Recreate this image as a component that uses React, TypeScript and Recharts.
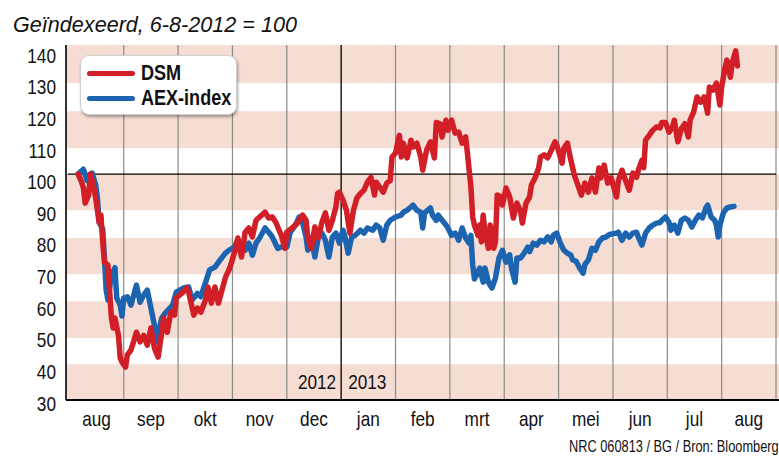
import React from "react";
import { LineChart, Line, XAxis, YAxis, ReferenceArea, ReferenceLine } from "recharts";

// maanden, aug 2012 t/m aug 2013 (x = maandnummer vanaf 1 aug 2012)
const monthLabels = ["aug", "sep", "okt", "nov", "dec", "jan", "feb", "mrt", "apr", "mei", "jun", "jul", "aug"];
const monthStarts = [1, 2, 3, 4, 5, 6, 7, 8, 9, 10, 11, 12, 13];
const yearStart = 5;
const yTicks = [30, 40, 50, 60, 70, 80, 90, 100, 110, 120, 130, 140];
const pinkBands: [number, number][] = [
  [128.2, 140],
  [108, 119.5],
  [88.8, 100],
  [69, 80.2],
  [49.2, 60.6],
  [30, 41.1],
];

const dsmDates = [
  "2012-08-06", "2012-08-08", "2012-08-09", "2012-08-10", "2012-08-12", "2012-08-13", "2012-08-15", "2012-08-16",
  "2012-08-18", "2012-08-19", "2012-08-20", "2012-08-21", "2012-08-23", "2012-08-24", "2012-08-25", "2012-08-26",
  "2012-08-27", "2012-08-29", "2012-08-30", "2012-08-31", "2012-09-02", "2012-09-03", "2012-09-05", "2012-09-08",
  "2012-09-10", "2012-09-12", "2012-09-14", "2012-09-16", "2012-09-18", "2012-09-20", "2012-09-22", "2012-09-23",
  "2012-09-25", "2012-09-27", "2012-09-29", "2012-09-30", "2012-10-03", "2012-10-06", "2012-10-07", "2012-10-10",
  "2012-10-12", "2012-10-14", "2012-10-17", "2012-10-18", "2012-10-20", "2012-10-22", "2012-10-24", "2012-10-26",
  "2012-10-28", "2012-10-30", "2012-10-31", "2012-11-03", "2012-11-04", "2012-11-06", "2012-11-08", "2012-11-10",
  "2012-11-12", "2012-11-14", "2012-11-16", "2012-11-19", "2012-11-21", "2012-11-23", "2012-11-25", "2012-11-26",
  "2012-11-28", "2012-11-30", "2012-12-01", "2012-12-04", "2012-12-07", "2012-12-10", "2012-12-12", "2012-12-13",
  "2012-12-15", "2012-12-17", "2012-12-19", "2012-12-21", "2012-12-23", "2012-12-25", "2012-12-27", "2012-12-29",
  "2012-12-30", "2012-12-31", "2013-01-02", "2013-01-04", "2013-01-06", "2013-01-08", "2013-01-10", "2013-01-12",
  "2013-01-14", "2013-01-16", "2013-01-18", "2013-01-20", "2013-01-21", "2013-01-23", "2013-01-25", "2013-01-27",
  "2013-01-29", "2013-01-30", "2013-02-01", "2013-02-03", "2013-02-04", "2013-02-05", "2013-02-07", "2013-02-09",
  "2013-02-10", "2013-02-12", "2013-02-14", "2013-02-15", "2013-02-17", "2013-02-19", "2013-02-21", "2013-02-22",
  "2013-02-24", "2013-02-25", "2013-02-27", "2013-02-28", "2013-03-02", "2013-03-04", "2013-03-06", "2013-03-08",
  "2013-03-10", "2013-03-11", "2013-03-13", "2013-03-14", "2013-03-15", "2013-03-17", "2013-03-18", "2013-03-19",
  "2013-03-20", "2013-03-21", "2013-03-23", "2013-03-24", "2013-03-26", "2013-03-27", "2013-03-28", "2013-03-30",
  "2013-03-31", "2013-04-02", "2013-04-04", "2013-04-06", "2013-04-08", "2013-04-10", "2013-04-11", "2013-04-13",
  "2013-04-15", "2013-04-16", "2013-04-18", "2013-04-20", "2013-04-21", "2013-04-23", "2013-04-25", "2013-04-27",
  "2013-04-29", "2013-04-30", "2013-05-03", "2013-05-04", "2013-05-06", "2013-05-08", "2013-05-10", "2013-05-12",
  "2013-05-14", "2013-05-16", "2013-05-18", "2013-05-20", "2013-05-22", "2013-05-24", "2013-05-25", "2013-05-27",
  "2013-05-29", "2013-05-31", "2013-06-03", "2013-06-04", "2013-06-06", "2013-06-08", "2013-06-10", "2013-06-12",
  "2013-06-14", "2013-06-15", "2013-06-17", "2013-06-18", "2013-06-19", "2013-06-21", "2013-06-23", "2013-06-25",
  "2013-06-27", "2013-06-28", "2013-06-30", "2013-07-02", "2013-07-04", "2013-07-05", "2013-07-07", "2013-07-09",
  "2013-07-11", "2013-07-13", "2013-07-14", "2013-07-16", "2013-07-18", "2013-07-20", "2013-07-22", "2013-07-24",
  "2013-07-25", "2013-07-27", "2013-07-29", "2013-07-31", "2013-08-01", "2013-08-03", "2013-08-04", "2013-08-06",
  "2013-08-07", "2013-08-09", "2013-08-10",
];
const dsmValues = [
  100, 97.5, 95.7, 91, 93.5, 100, 95.7, 92.6,
  85, 87.3, 79, 72.7, 71.8, 63.4, 55.4, 52.3,
  55.4, 50, 43, 41.7, 40.2, 44, 45.5, 51,
  48, 50, 47, 52.3, 46, 43.3, 51, 55.4,
  51, 57.2, 56.3, 61.6, 63, 64.7, 63.4, 56.3,
  58.5, 57.2, 61.6, 65, 60, 65, 60, 64,
  68, 70.3, 71.8, 77.4, 80.2, 74.3, 82, 83.3,
  80.5, 85.7, 86.7, 88.2, 86.4, 86.7, 85, 83.6,
  81, 77, 82, 83.3, 84.8, 87.3, 85.7, 80.2,
  77, 83.6, 80.2, 85, 88, 82.6, 85.7, 89.8,
  94, 94.4, 92, 88.8, 81.7, 88.8, 92.6, 94,
  95, 97.5, 99, 93.5, 97.5, 96, 94.4, 97.2,
  98, 105.3, 106.5, 112, 105.3, 109.6, 105, 110.5,
  108.4, 109.6, 105.3, 101.2, 107.4, 110, 105, 116,
  115.6, 111.5, 116.7, 113.6, 116.7, 112.7, 113, 109.6,
  111.5, 106.5, 96, 86.7, 84.2, 81, 84.2, 79,
  87.3, 82, 77, 84.2, 77, 79, 93.5, 93,
  90.4, 95.7, 93, 86.4, 91, 88.5, 84.8, 91,
  92.9, 96.6, 98.8, 101.9, 105.3, 106, 105, 107.4,
  110, 109, 103.4, 108, 109.6, 104.3, 99.7, 96.6,
  93.5, 97.2, 94.4, 98.8, 94.4, 101.9, 98.8, 102.8,
  97.2, 98.8, 92.9, 98, 101.2, 98, 95, 100.3,
  99, 101.2, 104.3, 102, 110.5, 112, 113.6, 114.6,
  114.3, 116, 116, 113, 114.6, 116.7, 110, 114,
  115.6, 111.5, 116.7, 119.2, 123.9, 122.3, 123.9, 118.9,
  127, 126, 128.2, 121.4, 127, 133.2, 135.3, 130,
  134.4, 138.2, 133.5,
];

const aexDates = [
  "2012-08-06", "2012-08-09", "2012-08-11", "2012-08-12", "2012-08-14", "2012-08-16", "2012-08-17", "2012-08-18",
  "2012-08-20", "2012-08-21", "2012-08-22", "2012-08-23", "2012-08-25", "2012-08-27", "2012-08-28", "2012-08-30",
  "2012-08-31", "2012-09-01", "2012-09-03", "2012-09-05", "2012-09-08", "2012-09-10", "2012-09-12", "2012-09-14",
  "2012-09-16", "2012-09-18", "2012-09-19", "2012-09-22", "2012-09-24", "2012-09-28", "2012-09-30", "2012-10-04",
  "2012-10-07", "2012-10-09", "2012-10-12", "2012-10-14", "2012-10-17", "2012-10-19", "2012-10-22", "2012-10-25",
  "2012-10-28", "2012-10-30", "2012-11-02", "2012-11-04", "2012-11-06", "2012-11-08", "2012-11-10", "2012-11-12",
  "2012-11-14", "2012-11-16", "2012-11-19", "2012-11-21", "2012-11-23", "2012-11-26", "2012-11-28", "2012-12-01",
  "2012-12-03", "2012-12-06", "2012-12-08", "2012-12-10", "2012-12-12", "2012-12-13", "2012-12-15", "2012-12-17",
  "2012-12-19", "2012-12-21", "2012-12-23", "2012-12-25", "2012-12-27", "2012-12-29", "2012-12-31", "2013-01-02",
  "2013-01-03", "2013-01-05", "2013-01-07", "2013-01-09", "2013-01-12", "2013-01-14", "2013-01-16", "2013-01-19",
  "2013-01-21", "2013-01-23", "2013-01-25", "2013-01-27", "2013-01-29", "2013-02-01", "2013-02-04", "2013-02-05",
  "2013-02-07", "2013-02-09", "2013-02-10", "2013-02-12", "2013-02-14", "2013-02-15", "2013-02-16", "2013-02-19",
  "2013-02-20", "2013-02-22", "2013-02-23", "2013-02-25", "2013-02-27", "2013-02-28", "2013-03-02", "2013-03-04",
  "2013-03-06", "2013-03-08", "2013-03-10", "2013-03-12", "2013-03-13", "2013-03-14", "2013-03-15", "2013-03-18",
  "2013-03-20", "2013-03-21", "2013-03-23", "2013-03-25", "2013-03-27", "2013-03-29", "2013-03-31", "2013-04-02",
  "2013-04-04", "2013-04-05", "2013-04-07", "2013-04-08", "2013-04-10", "2013-04-12", "2013-04-14", "2013-04-15",
  "2013-04-17", "2013-04-19", "2013-04-21", "2013-04-23", "2013-04-25", "2013-04-27", "2013-04-28", "2013-04-30",
  "2013-05-02", "2013-05-04", "2013-05-06", "2013-05-08", "2013-05-09", "2013-05-11", "2013-05-13", "2013-05-15",
  "2013-05-16", "2013-05-18", "2013-05-20", "2013-05-22", "2013-05-24", "2013-05-26", "2013-05-28", "2013-05-30",
  "2013-06-03", "2013-06-04", "2013-06-06", "2013-06-08", "2013-06-10", "2013-06-12", "2013-06-14", "2013-06-15",
  "2013-06-17", "2013-06-19", "2013-06-21", "2013-06-23", "2013-06-25", "2013-06-27", "2013-06-28", "2013-06-30",
  "2013-07-02", "2013-07-03", "2013-07-05", "2013-07-07", "2013-07-09", "2013-07-11", "2013-07-13", "2013-07-15",
  "2013-07-17", "2013-07-19", "2013-07-21", "2013-07-23", "2013-07-24", "2013-07-26", "2013-07-28", "2013-07-29",
  "2013-07-30", "2013-07-31", "2013-08-02", "2013-08-04", "2013-08-06", "2013-08-08",
];
const aexValues = [
  100, 101.5, 98, 99.7, 100.3, 96.6, 92.6, 85,
  83, 74, 64, 61, 68.7, 71, 61.6, 59.4,
  56, 61.6, 62, 59.4, 65.6, 60.3, 62.5, 64,
  58.5, 53, 48, 55.4, 57, 59.4, 63.4, 64.7,
  65, 61, 63, 62, 67, 70.3, 71.2, 73.4,
  75.5, 76.4, 77.4, 79.5, 76.4, 76.4, 78.6, 74.9,
  78.6, 80.2, 83.3, 82, 80.5, 77, 77.4, 77.4,
  82, 84.2, 86.7, 85, 80.5, 76.4, 80.2, 74.3,
  80.5, 81.7, 79.5, 74.3, 80.5, 81.7, 78.6, 82.6,
  81, 75.5, 80.5, 81, 82.6, 81.7, 83.3, 82.6,
  84.2, 83.3, 79.5, 84.2, 85.7, 86.7, 87.3, 88.2,
  88.8, 89.8, 90.4, 88.8, 88.2, 83.3, 88, 89.5,
  87.3, 85.7, 87.3, 85.7, 84.2, 83.3, 81, 81.7,
  79.5, 83.3, 80.2, 78.6, 81, 72, 67.5, 70.9,
  66.5, 70.9, 66.5, 64.7, 67.8, 74, 76.4, 72.7,
  75, 70.9, 66.5, 74, 74, 75.5, 77.4, 76,
  78.6, 78, 79.5, 79, 80.5, 79, 81, 81.7,
  78.6, 76.4, 75.5, 74.9, 73.4, 73, 70.9, 69.3,
  72, 73.4, 77, 76.4, 79, 80.2, 80.5, 81.3,
  81.7, 82, 79.5, 81.7, 80.5, 81.7, 82, 80.5,
  78, 81.7, 83.3, 84.2, 84.8, 85, 85.7, 86.7,
  85, 82.6, 84.2, 81.7, 85.7, 86.4, 85.7, 83.6,
  85.7, 87.3, 86.4, 89.5, 90.4, 86.7, 85.7, 84.2,
  80.5, 84.2, 88, 89.5, 89.8, 90,
];

// smalle letter: Liberation Sans horizontaal ingedrukt
const sans = "'Liberation Sans', Arial, sans-serif";
const squeeze = 0.82;

// datum -> positie in maanden (alle maanden even breed, zoals in de grafiek)
function monthPos(date: string) {
  const [y, m, d] = date.split("-").map(Number);
  const index = (y - 2012) * 12 + (m - 8);
  const days = new Date(y, m, 0).getDate();
  return index + (d - 1) / days;
}

const toRows = (dates: string[], values: number[]) =>
  dates.map((date, i) => ({ t: monthPos(date), v: values[i] }));

const series = [
  { name: "AEX-index", color: "#1c64b0", rows: toRows(aexDates, aexValues) },
  { name: "DSM", color: "#d21e26", rows: toRows(dsmDates, dsmValues) },
];

const NarrowText = ({ x, y, anchor, size = 21, weight = "normal", children }: any) => (
  <text
    transform={`translate(${x},${y}) scale(${squeeze},1)`}
    dy="0.36em"
    textAnchor={anchor}
    fontFamily={sans}
    fontSize={size}
    fontWeight={weight}
    fill="#111"
  >
    {children}
  </text>
);

const YTick = ({ x, y, payload }: any) => (
  <NarrowText x={x} y={y + 3 + (payload.value - 30) * 0.064} anchor="end">
    {payload.value}
  </NarrowText>
);

const XTick = ({ x, y, payload }: any) => (
  <NarrowText x={x} y={y} anchor="middle">
    {monthLabels[Math.floor(payload.value)]}
  </NarrowText>
);

const YearLabel = ({ viewBox }: any) => {
  const x = viewBox.x;
  const y = viewBox.y + viewBox.height - 19;
  return (
    <g>
      <NarrowText x={x - 5} y={y} anchor="end">2012</NarrowText>
      <NarrowText x={x + 7} y={y} anchor="start">2013</NarrowText>
    </g>
  );
};

const narrowHtml = {
  display: "inline-block",
  fontFamily: sans,
  transform: `scaleX(${squeeze})`,
  transformOrigin: "left center",
  whiteSpace: "nowrap" as const,
};

export default function App() {
  return (
    <div style={{ position: "relative", width: 779, height: 457, overflow: "hidden", background: "#fff" }}>
      <style>{"body{margin:0}"}</style>
      <div
        style={{
          position: "absolute",
          left: 13,
          top: 13,
          fontFamily: sans,
          fontStyle: "italic",
          fontSize: 21.6,
          lineHeight: "24px",
          color: "#111",
          whiteSpace: "nowrap",
        }}
      >
        Geïndexeerd, 6-8-2012 = 100
      </div>

      <LineChart width={779} height={457} margin={{ top: 45, right: 0, bottom: 0, left: 0 }}>
        {pinkBands.map(([lo, hi]) => (
          <ReferenceArea
            key={lo}
            y1={lo}
            y2={hi}
            fill="#f6ddd4"
            fillOpacity={1}
            stroke="none"
            ifOverflow="hidden"
          />
        ))}
        {monthStarts.map((m) => (
          <ReferenceLine
            key={m}
            x={m}
            stroke={m === yearStart ? "#000" : "#8a8a8a"}
            strokeWidth={m === yearStart ? 1.3 : 1.2}
            label={m === yearStart ? (props: any) => <YearLabel {...props} /> : undefined}
          />
        ))}
        <ReferenceLine
          segment={[
            { x: -0.03, y: 100 },
            { x: 13, y: 100 },
          ]}
          stroke="#000"
          strokeWidth={1.4}
        />
        <XAxis
          dataKey="t"
          type="number"
          domain={[-0.062, 13.055]}
          allowDataOverflow
          ticks={[0.5, 1.5, 2.5, 3.5, 4.5, 5.5, 6.5, 7.5, 8.5, 9.5, 10.5, 11.5, 12.5]}
          tick={<XTick />}
          tickLine={false}
          tickSize={0}
          tickMargin={18}
          height={57}
          axisLine={{ stroke: "#000", strokeWidth: 2 }}
          interval={0}
        />
        <YAxis
          type="number"
          domain={[30, 140]}
          ticks={yTicks}
          tick={<YTick />}
          tickLine={false}
          tickSize={0}
          tickMargin={10}
          width={66}
          axisLine={{ stroke: "#000", strokeWidth: 1.6 }}
          interval={0}
        />
        {series.map((s) => (
          <Line
            key={s.name}
            data={s.rows}
            dataKey="v"
            name={s.name}
            type="linear"
            stroke={s.color}
            strokeWidth={5.5}
            strokeLinejoin="round"
            strokeLinecap="round"
            dot={false}
            activeDot={false}
            isAnimationActive={false}
          />
        ))}
      </LineChart>

      <div
        style={{
          position: "absolute",
          left: 80,
          top: 55,
          width: 157,
          height: 60,
          boxSizing: "border-box",
          background: "#fff",
          borderRadius: 9,
          border: "1px solid #d0d0d0",
          boxShadow: "1px 2px 3px rgba(0,0,0,0.35)",
        }}
      >
        {[...series].reverse().map((s, i) => (
          <div
            key={s.name}
            style={{
              position: "absolute",
              left: 6,
              top: 5 + i * 25,
              height: 24,
              display: "flex",
              alignItems: "center",
              whiteSpace: "nowrap",
            }}
          >
            <span
              style={{ display: "inline-block", width: 48, height: 5, borderRadius: 3, background: s.color, marginRight: 6 }}
            />
            <span style={{ ...narrowHtml, fontWeight: "bold", fontSize: 22, color: "#111" }}>{s.name}</span>
          </div>
        ))}
      </div>

      <div
        style={{
          position: "absolute",
          left: 569,
          top: 439,
          fontSize: 15.6,
          lineHeight: "16px",
          color: "#111",
          ...narrowHtml,
        }}
      >
        NRC 060813 / BG / Bron: Bloomberg
      </div>
    </div>
  );
}
